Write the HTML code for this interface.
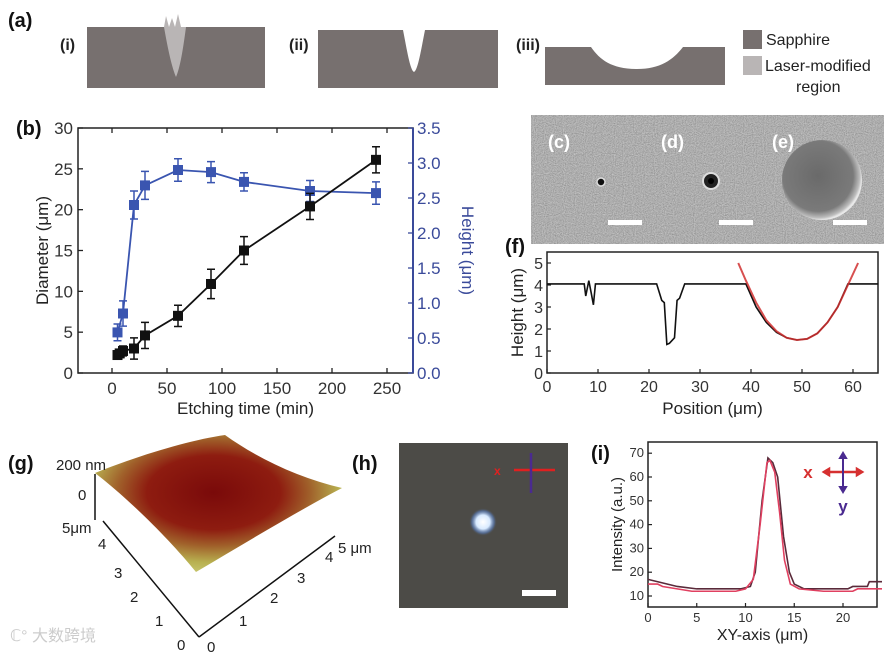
<!DOCTYPE html>
<html><head><meta charset="utf-8">
<style>
html,body{margin:0;padding:0;background:#fff;}
body{width:884px;height:652px;overflow:hidden;font-family:"Liberation Sans","Noto Sans CJK SC",sans-serif;}
svg text{font-family:"Liberation Sans","Noto Sans CJK SC",sans-serif;}
</style></head>
<body>
<svg id="fig" width="884" height="652" viewBox="0 0 884 652" xmlns="http://www.w3.org/2000/svg">
<defs>
<filter id="noise"><feTurbulence type="fractalNoise" baseFrequency="0.9" numOctaves="2" seed="3"/><feColorMatrix type="saturate" values="0"/><feComponentTransfer><feFuncR type="linear" slope="0.6" intercept="0.12"/><feFuncG type="linear" slope="0.6" intercept="0.12"/><feFuncB type="linear" slope="0.6" intercept="0.12"/><feFuncA type="linear" slope="0" intercept="1"/></feComponentTransfer></filter>
<radialGradient id="surf" cx="0.48" cy="0.42" r="0.6"><stop offset="0" stop-color="#7a0a0a"/><stop offset="0.45" stop-color="#8e1c10"/><stop offset="0.65" stop-color="#a0602a"/><stop offset="0.85" stop-color="#b8b050"/><stop offset="1" stop-color="#c8c870"/></radialGradient>
<radialGradient id="spot" cx="0.5" cy="0.5" r="0.5"><stop offset="0" stop-color="#ffffff"/><stop offset="0.5" stop-color="#d8eaff"/><stop offset="0.8" stop-color="#5a7fc0" stop-opacity="0.6"/><stop offset="1" stop-color="#4a4a48" stop-opacity="0"/></radialGradient>
<radialGradient id="sphere" cx="0.45" cy="0.45" r="0.55"><stop offset="0" stop-color="#6a6a6a"/><stop offset="0.8" stop-color="#7a7a7a"/><stop offset="0.95" stop-color="#bdbdbd"/><stop offset="1" stop-color="#e8e8e8"/></radialGradient>
</defs>

<!-- Panel (a) -->
<g>
<text x="8" y="27" font-size="20" font-weight="bold" fill="#111">(a)</text>
<text x="60" y="50" font-size="16" font-weight="bold" fill="#222">(i)</text>
<rect x="87" y="27" width="178" height="61" fill="#77706f"/>
<path d="M164,27 L166,16 L169,27 L172,18 L175,27 L178,14 L181,27 L186,27 C183,50 180,68 176,77 C172,68 168,50 164,27 Z" fill="#b9b5b5"/>
<text x="289" y="50" font-size="16" font-weight="bold" fill="#222">(ii)</text>
<path d="M318,30 L403,30 C407,50 410,70 414,72 C418,70 421,50 425,30 L498,30 L498,88 L318,88 Z" fill="#77706f"/>
<text x="516" y="50" font-size="16" font-weight="bold" fill="#222">(iii)</text>
<path d="M545,47 L591,47 C600,60 612,69 637,69 C660,69 673,60 683,47 L725,47 L725,85 L545,85 Z" fill="#77706f"/>
<rect x="743" y="30" width="19" height="19" fill="#77706f"/>
<text x="766" y="45" font-size="16" fill="#222">Sapphire</text>
<rect x="743" y="56" width="19" height="19" fill="#b9b5b5"/>
<text x="765" y="71" font-size="16" fill="#222">Laser-modified</text>
<text x="796" y="92" font-size="16" fill="#222">region</text>
</g>

<g id="pb">
<text x="16" y="135" font-size="20" font-weight="bold" fill="#111">(b)</text>
</g>

<!-- SEM images -->
<g>
<rect x="542" y="126" width="109" height="107" fill="#666" filter="url(#noise)"/>
<rect x="656" y="126" width="106" height="107" fill="#666" filter="url(#noise)"/>
<rect x="767" y="126" width="109" height="107" fill="#666" filter="url(#noise)"/>
<circle cx="601" cy="182" r="4" fill="#111" stroke="#ddd" stroke-width="1.5"/>
<circle cx="711" cy="181" r="8" fill="#222" stroke="#ddd" stroke-width="2"/>
<circle cx="711" cy="181" r="3" fill="#000"/>
<circle cx="822" cy="180" r="40" fill="url(#sphere)"/>
<text x="548" y="148" font-size="18" font-weight="bold" fill="#fff">(c)</text>
<text x="661" y="148" font-size="18" font-weight="bold" fill="#fff">(d)</text>
<text x="772" y="148" font-size="18" font-weight="bold" fill="#fff">(e)</text>
<rect x="608" y="220" width="34" height="5" fill="#fff"/>
<rect x="719" y="220" width="34" height="5" fill="#fff"/>
<rect x="833" y="220" width="34" height="5" fill="#fff"/>
</g>

<g id="pf">
<text x="505" y="253" font-size="20" font-weight="bold" fill="#111">(f)</text>
</g>

<!-- Panel (g) -->
<g>
<text x="8" y="470" font-size="20" font-weight="bold" fill="#111">(g)</text>
<path d="M95,473 C140,455 190,440 225,435 C260,460 300,478 342,488 C300,510 250,540 196,572 C170,540 130,500 95,473 Z" fill="url(#surf)"/>
<line x1="95" y1="474" x2="95" y2="520" stroke="#111" stroke-width="1.5"/>
<line x1="103" y1="521" x2="199" y2="637" stroke="#111" stroke-width="1.5"/>
<line x1="199" y1="637" x2="335" y2="536" stroke="#111" stroke-width="1.5"/>
<text x="56" y="470" font-size="15" fill="#222">200 nm</text>
<text x="78" y="500" font-size="15" fill="#222">0</text>
<text x="62" y="533" font-size="15" fill="#222">5μm</text>
<text x="98" y="549" font-size="15" fill="#222">4</text>
<text x="114" y="578" font-size="15" fill="#222">3</text>
<text x="130" y="602" font-size="15" fill="#222">2</text>
<text x="155" y="626" font-size="15" fill="#222">1</text>
<text x="177" y="650" font-size="15" fill="#222">0</text>
<text x="207" y="652" font-size="15" fill="#222">0</text>
<text x="239" y="626" font-size="15" fill="#222">1</text>
<text x="270" y="603" font-size="15" fill="#222">2</text>
<text x="297" y="583" font-size="15" fill="#222">3</text>
<text x="325" y="562" font-size="15" fill="#222">4</text>
<text x="338" y="553" font-size="15" fill="#222">5 μm</text>
<text x="10" y="641" font-size="16" fill="#ccc">ℂ° 大数跨境</text>
</g>

<!-- Panel (h) -->
<g>
<text x="352" y="470" font-size="20" font-weight="bold" fill="#111">(h)</text>
<rect x="399" y="443" width="169" height="165" fill="#4c4b47"/>
<circle cx="483" cy="522" r="14" fill="url(#spot)"/>
<line x1="514" y1="470" x2="555" y2="470" stroke="#e02020" stroke-width="2.5"/>
<line x1="531" y1="453" x2="531" y2="493" stroke="#4a2a90" stroke-width="2.5"/>
<text x="494" y="475" font-size="12" fill="#e02020" font-weight="bold">x</text>
<rect x="522" y="590" width="34" height="6" fill="#fff"/>
</g>

<g id="pi">
<text x="591" y="460" font-size="20" font-weight="bold" fill="#111">(i)</text>
</g>
</svg>

<script>
// ---- Panel (b) data ----
const bTimes = [5, 7, 10, 20, 30, 60, 90, 120, 180, 240];
const bDiameter = [2.2, 2.4, 2.7, 3.0, 4.6, 7.0, 10.9, 15.0, 20.4, 26.1];
const bDiameterErr = [0.5, 0.5, 0.6, 1.3, 1.6, 1.3, 1.8, 1.7, 1.6, 1.6];
const bHeightTimes = [5, 10, 20, 30, 60, 90, 120, 180, 240];
const bHeight = [0.58, 0.85, 2.4, 2.68, 2.9, 2.87, 2.73, 2.6, 2.57];
const bHeightErr = [0.12, 0.18, 0.2, 0.2, 0.16, 0.15, 0.13, 0.15, 0.16];
const bXTicks = [0, 50, 100, 150, 200, 250];
const bYTicks = [0, 5, 10, 15, 20, 25, 30];
const bY2Ticks = [0, 0.5, 1.0, 1.5, 2.0, 2.5, 3.0, 3.5];

// ---- Panel (f) data ----
const fProfileX = [0, 7.3, 7.6, 8.2, 8.7, 9.1, 9.5, 21.5, 22.5, 23, 23.5, 24, 25, 25.5, 26, 27, 39, 41, 43, 45, 47, 49, 51, 53, 55, 57, 59, 65];
const fProfileY = [4.05, 4.05, 3.5, 4.2, 3.6, 3.1, 4.05, 4.05, 3.3, 3.2, 1.3, 1.35, 1.6, 3.3, 3.4, 4.05, 4.05, 3.0, 2.3, 1.85, 1.6, 1.5, 1.55, 1.8, 2.3, 3.0, 4.05, 4.05];
const fFitX = [37.5, 39, 41, 43, 45, 47, 49, 51, 53, 55, 57, 59, 61];
const fFitY = [5.0, 4.2, 3.2, 2.4, 1.9, 1.6, 1.5, 1.55, 1.8, 2.3, 3.0, 4.0, 5.0];
const fXTicks = [0, 10, 20, 30, 40, 50, 60];
const fYTicks = [0, 1, 2, 3, 4, 5];

// ---- Panel (i) data ----
const iRedX = [0, 1, 1.5, 3, 4.5, 9, 10, 10.8, 11.5, 12.2, 12.5, 13, 13.5, 14, 14.6, 15.5, 18, 21, 21.5, 24];
const iRedY = [15, 15, 14, 13, 12, 12, 13, 17, 40, 66, 67, 62, 45, 25, 15, 13, 12, 12, 13, 13];
const iDarkX = [0, 1, 2, 3, 5, 9.5, 10.5, 11, 11.7, 12.3, 12.8, 13.3, 13.9, 14.5, 15, 16, 20.5, 21, 22.5, 22.7, 24];
const iDarkY = [17, 16, 15, 14, 13, 13, 14, 20, 50, 68, 66, 60, 35, 20, 15, 13, 13, 14, 14, 16, 16];
const iXTicks = [0, 5, 10, 15, 20];
const iYTicks = [10, 20, 30, 40, 50, 60, 70];

const NS = 'http://www.w3.org/2000/svg';
function mk(parent, tag, attrs) {
  const e = document.createElementNS(NS, tag);
  for (const k in attrs) e.setAttribute(k, attrs[k]);
  parent.appendChild(e);
  return e;
}
function txt(parent, x, y, s, size, anchor, fill) {
  const t = mk(parent, 'text', {x: x, y: y, 'font-size': size, 'text-anchor': anchor, fill: fill || '#333'});
  t.textContent = s;
  return t;
}

// ===== Panel (b) =====
(function () {
  const g = document.getElementById('pb');
  const L = 78, R = 413, T = 128, B = 373;
  const sx = v => 112 + v * 1.1;
  const sy = v => B - (v / 30) * (B - T);
  const sy2 = v => B - (v / 3.5) * (B - T);
  const box = mk(g, 'rect', {x: L, y: T, width: R - L, height: B - T, fill: 'none', stroke: '#222', 'stroke-width': 1.5});
  
  
  const rax = mk(g, 'line', {x1: R, y1: T, x2: R, y2: B, stroke: '#3a4a9a', 'stroke-width': 2});
  
  
  bXTicks.forEach(v => {
    mk(g, 'line', {x1: sx(v), y1: B, x2: sx(v), y2: B - 5, stroke: '#222', 'stroke-width': 1.3});
    mk(g, 'line', {x1: sx(v), y1: T, x2: sx(v), y2: T + 5, stroke: '#222', 'stroke-width': 1.3});
    const t = txt(g, sx(v), B + 21, String(v), 17, 'middle');
    
    
  });
  bYTicks.forEach(v => {
    mk(g, 'line', {x1: L, y1: sy(v), x2: L + 5, y2: sy(v), stroke: '#222', 'stroke-width': 1.3});
    const t = txt(g, L - 5, sy(v) + 6, String(v), 17, 'end');
    
    
  });
  bY2Ticks.forEach(v => {
    mk(g, 'line', {x1: R, y1: sy2(v), x2: R - 5, y2: sy2(v), stroke: '#3a4a9a', 'stroke-width': 1.3});
    const t = txt(g, R + 4, sy2(v) + 6, v.toFixed(1), 17, 'start', '#3a4a9a');
    
    
  });
  const xt = txt(g, (L + R) / 2, B + 41, 'Etching time (min)', 17, 'middle', '#222');
  
  
  const yt = txt(g, 0, 0, 'Diameter (μm)', 17, 'middle', '#222');
  yt.setAttribute('transform', 'translate(48,' + (T + B) / 2 + ') rotate(-90)');
  
  
  const y2t = txt(g, 0, 0, 'Height (μm)', 17, 'middle', '#3a4a9a');
  y2t.setAttribute('transform', 'translate(462,' + (T + B) / 2 + ') rotate(90)');
  
  

  const bp = bHeightTimes.map((t, i) => sx(t) + ',' + sy2(bHeight[i])).join(' ');
  const bl = mk(g, 'polyline', {points: bp, fill: 'none', stroke: '#3a55b0', 'stroke-width': 1.8});
  
  
  bHeightTimes.forEach((t, i) => {
    const x = sx(t), y = sy2(bHeight[i]), e1 = sy2(bHeight[i] + bHeightErr[i]), e2 = sy2(bHeight[i] - bHeightErr[i]);
    mk(g, 'path', {d: `M${x},${e1}V${e2}M${x - 4},${e1}h8M${x - 4},${e2}h8`, stroke: '#3a55b0', 'stroke-width': 1.5, fill: 'none'});
    const m = mk(g, 'rect', {x: x - 5, y: y - 5, width: 10, height: 10, fill: '#3a55b0'});
    
    
  });
  const kp = bTimes.map((t, i) => sx(t) + ',' + sy(bDiameter[i])).join(' ');
  const kl = mk(g, 'polyline', {points: kp, fill: 'none', stroke: '#111', 'stroke-width': 1.8});
  
  
  bTimes.forEach((t, i) => {
    const x = sx(t), y = sy(bDiameter[i]), e1 = sy(bDiameter[i] + bDiameterErr[i]), e2 = sy(bDiameter[i] - bDiameterErr[i]);
    mk(g, 'path', {d: `M${x},${e1}V${e2}M${x - 4},${e1}h8M${x - 4},${e2}h8`, stroke: '#111', 'stroke-width': 1.5, fill: 'none'});
    const m = mk(g, 'rect', {x: x - 5, y: y - 5, width: 10, height: 10, fill: '#111'});
    
    
  });
})();

// ===== Panel (f) =====
(function () {
  const g = document.getElementById('pf');
  const L = 547, R = 878, T = 252, B = 373;
  const sx = v => L + v * 5.1;
  const sy = v => B - v * 22;
  const box = mk(g, 'rect', {x: L, y: T, width: R - L, height: B - T, fill: 'none', stroke: '#222', 'stroke-width': 1.5});
  
  
  fXTicks.forEach(v => {
    mk(g, 'line', {x1: sx(v), y1: B, x2: sx(v), y2: B - 4, stroke: '#222', 'stroke-width': 1.2});
    const t = txt(g, sx(v), B + 19, String(v), 16, 'middle');
    
    
  });
  fYTicks.forEach(v => {
    mk(g, 'line', {x1: L, y1: sy(v), x2: L + 4, y2: sy(v), stroke: '#222', 'stroke-width': 1.2});
    const t = txt(g, L - 4, sy(v) + 6, String(v), 16, 'end');
    
    
  });
  const xt = txt(g, (L + R) / 2, B + 41, 'Position (μm)', 17, 'middle', '#222');
  
  
  const yt = txt(g, 0, 0, 'Height (μm)', 17, 'middle', '#222');
  yt.setAttribute('transform', 'translate(523,' + (T + B) / 2 + ') rotate(-90)');
  
  
  const p = mk(g, 'polyline', {points: fProfileX.map((x, i) => sx(x) + ',' + sy(fProfileY[i])).join(' '), fill: 'none', stroke: '#111', 'stroke-width': 1.6});
  
  
  const f = mk(g, 'polyline', {points: fFitX.map((x, i) => sx(x) + ',' + sy(fFitY[i])).join(' '), fill: 'none', stroke: '#d03030', 'stroke-width': 2, 'stroke-opacity': 0.85});
  
  
})();

// ===== Panel (i) =====
(function () {
  const g = document.getElementById('pi');
  const L = 648, R = 877, T = 442, B = 607;
  const sx = v => L + v * 9.75;
  const sy = v => 596 - (v - 10) * 2.38;
  const box = mk(g, 'rect', {x: L, y: T, width: R - L, height: B - T, fill: 'none', stroke: '#222', 'stroke-width': 1.5});
  
  
  iXTicks.forEach(v => {
    mk(g, 'line', {x1: sx(v), y1: B, x2: sx(v), y2: B - 4, stroke: '#222', 'stroke-width': 1.2});
    const t = txt(g, sx(v), B + 15, String(v), 13, 'middle');
    
    
  });
  iYTicks.forEach(v => {
    mk(g, 'line', {x1: L, y1: sy(v), x2: L + 4, y2: sy(v), stroke: '#222', 'stroke-width': 1.2});
    const t = txt(g, L - 4, sy(v) + 4, String(v), 13, 'end');
    
    
  });
  const xt = txt(g, (L + R) / 2, B + 33, 'XY-axis (μm)', 16, 'middle', '#222');
  
  
  const yt = txt(g, 0, 0, 'Intensity (a.u.)', 15, 'middle', '#222');
  yt.setAttribute('transform', 'translate(622,' + (T + B) / 2 + ') rotate(-90)');
  
  
  const d = mk(g, 'polyline', {points: iDarkX.map((x, i) => sx(x) + ',' + sy(iDarkY[i])).join(' '), fill: 'none', stroke: '#5a2a3a', 'stroke-width': 1.6});
  
  
  const r = mk(g, 'polyline', {points: iRedX.map((x, i) => sx(x) + ',' + sy(iRedY[i])).join(' '), fill: 'none', stroke: '#e04060', 'stroke-width': 1.6});
  
  
  const xa = mk(g, 'path', {d: 'M824,472 H862 M824,472 l5,-3 v6 z M862,472 l-5,-3 v6 z', stroke: '#d63030', 'stroke-width': 2.5, fill: '#d63030'});
  
  
  const ya = mk(g, 'path', {d: 'M843,453 V492 M843,453 l-3,5 h6 z M843,492 l-3,-5 h6 z', stroke: '#4a2a90', 'stroke-width': 2, fill: '#4a2a90'});
  
  
  const xl = txt(g, 808, 478, 'x', 17, 'middle', '#d63030');
  xl.setAttribute('font-weight', 'bold');
  
  
  const yl = txt(g, 843, 512, 'y', 17, 'middle', '#4a2a90');
  yl.setAttribute('font-weight', 'bold');
  
  
})();
</script>
</body></html>
